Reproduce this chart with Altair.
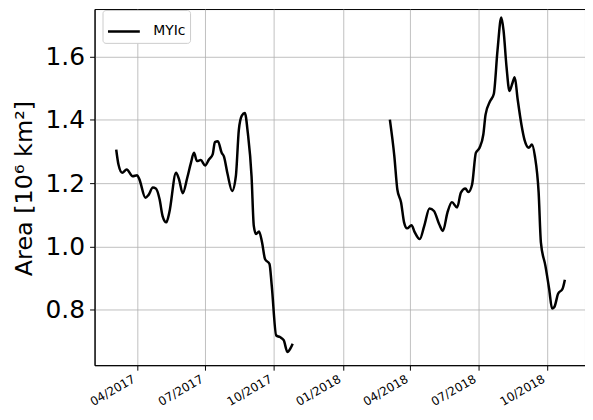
import altair as alt
import pandas as pd

# Segment 1 (2017)
dates_2017 = ["2017-03-04", "2017-03-07", "2017-03-12", "2017-03-18", "2017-03-26", "2017-04-01",
              "2017-04-04", "2017-04-12", "2017-04-16", "2017-04-22", "2017-04-26", "2017-05-01",
              "2017-05-05", "2017-05-10", "2017-05-14", "2017-05-23", "2017-05-27", "2017-06-01",
              "2017-06-07", "2017-06-12", "2017-06-16", "2017-06-20", "2017-06-25", "2017-07-01",
              "2017-07-06", "2017-07-11", "2017-07-14", "2017-07-18", "2017-07-23", "2017-07-26",
              "2017-07-31", "2017-08-06", "2017-08-11", "2017-08-15", "2017-08-19", "2017-08-23",
              "2017-08-27", "2017-09-01", "2017-09-04", "2017-09-07", "2017-09-11", "2017-09-15",
              "2017-09-19", "2017-09-25", "2017-09-28", "2017-10-04", "2017-10-09", "2017-10-14",
              "2017-10-19", "2017-10-23", "2017-10-26"]
area_2017 = [1.306, 1.259, 1.233, 1.243, 1.222, 1.225,
             1.212, 1.154, 1.162, 1.186, 1.183, 1.149,
             1.096, 1.076, 1.107, 1.233, 1.212, 1.168,
             1.217, 1.265, 1.296, 1.270, 1.273, 1.256,
             1.275, 1.291, 1.330, 1.333, 1.296, 1.285,
             1.228, 1.175, 1.222, 1.369, 1.414, 1.422,
             1.359, 1.222, 1.065, 1.039, 1.047, 1.013,
             0.960, 0.944, 0.876, 0.718, 0.713, 0.703,
             0.666, 0.677, 0.692]

# Segment 2 (2018)
dates_2018 = ["2018-03-05", "2018-03-11", "2018-03-15", "2018-03-20", "2018-03-24", "2018-03-28",
              "2018-04-03", "2018-04-07", "2018-04-14", "2018-04-20", "2018-04-27", "2018-05-03",
              "2018-05-10", "2018-05-15", "2018-05-21", "2018-05-27", "2018-06-03", "2018-06-08",
              "2018-06-14", "2018-06-18", "2018-06-23", "2018-06-28", "2018-07-03", "2018-07-08",
              "2018-07-11", "2018-07-17", "2018-07-22", "2018-07-27", "2018-08-01", "2018-08-04",
              "2018-08-08", "2018-08-12", "2018-08-16", "2018-08-19", "2018-08-23", "2018-08-28",
              "2018-09-01", "2018-09-07", "2018-09-11", "2018-09-15", "2018-09-20", "2018-09-23",
              "2018-09-29", "2018-10-04", "2018-10-08", "2018-10-11", "2018-10-16", "2018-10-22",
              "2018-10-25"]
area_2018 = [1.401, 1.285, 1.180, 1.139, 1.076, 1.057,
             1.067, 1.046, 1.023, 1.065, 1.120, 1.112,
             1.070, 1.049, 1.107, 1.140, 1.123, 1.170,
             1.183, 1.172, 1.196, 1.296, 1.312, 1.354,
             1.417, 1.459, 1.482, 1.621, 1.724, 1.684,
             1.569, 1.492, 1.517, 1.535, 1.464, 1.385,
             1.338, 1.312, 1.322, 1.285, 1.170, 1.013,
             0.939, 0.866, 0.803, 0.808, 0.850, 0.866,
             0.894]

tick_dates = ["2017-04-01", "2017-07-01", "2017-10-01", "2018-01-01",
              "2018-04-01", "2018-07-01", "2018-10-01"]
y_ticks = [0.8, 1.0, 1.2, 1.4, 1.6]
x_domain = ["2017-02-03", "2018-11-21"]
y_domain = [0.624, 1.751]

df = pd.concat([
    pd.DataFrame({"date": [d + "T00:00:00" for d in dates_2017], "area": area_2017, "seg": "a"}),
    pd.DataFrame({"date": [d + "T00:00:00" for d in dates_2018], "area": area_2018, "seg": "b"}),
])
df["series"] = "MYIc"

def dt(s):
    y, m, d = s.split("-")
    return alt.DateTime(year=int(y), month=int(m), date=int(d))

chart = alt.Chart(df).mark_line(color="black", strokeWidth=2.5, interpolate="monotone").encode(
    x=alt.X("date:T",
            scale=alt.Scale(domain=[dt(x_domain[0]), dt(x_domain[1])], nice=False),
            axis=alt.Axis(values=[dt(t) for t in tick_dates], format="%m/%Y", title=None,
                          labelAngle=-30, labelAlign="right", labelBaseline="top",
                          labelFontSize=12, labelPadding=3, labelOffset=-6, tickSize=5)),
    y=alt.Y("area:Q",
            scale=alt.Scale(domain=y_domain, nice=False, zero=False),
            axis=alt.Axis(values=y_ticks, format=".1f", title="Area [10⁶ km²]",
                          labelFontSize=25, labelPadding=5, tickSize=5,
                          titleFontSize=24, titleFontWeight="normal",
                          titleX=-63, titleY=180, titleAngle=270,
                          titleAlign="center", titleBaseline="alphabetic")),
    color=alt.Color("series:N", scale=alt.Scale(range=["black"]),
                    legend=alt.Legend(title=None, orient="none", legendX=8, legendY=1,
                                      symbolType="stroke", symbolSize=1024, symbolStrokeWidth=2.5,
                                      labelFontSize=14, labelOffset=12, padding=4,
                                      strokeColor="#cccccc", fillColor="white", cornerRadius=3)),
    detail="seg:N",
).properties(
    width=493, height=358,
    autosize=alt.AutoSizeParams(type="none"),
    padding={"left": 87, "top": 0, "right": 0, "bottom": 44},
).configure(
    font="DejaVu Sans",
).configure_axis(
    grid=True, gridColor="#b0b0b0", gridWidth=0.8,
    domainColor="black", tickColor="black", labelColor="black", titleColor="black",
    labelFont="DejaVu Sans", titleFont="DejaVu Sans",
).configure_legend(
    labelFont="DejaVu Sans", labelColor="black",
).configure_view(
    stroke="black", strokeWidth=1,
)

chart.save("out.html", embed_options={"renderer": "svg", "actions": False})
